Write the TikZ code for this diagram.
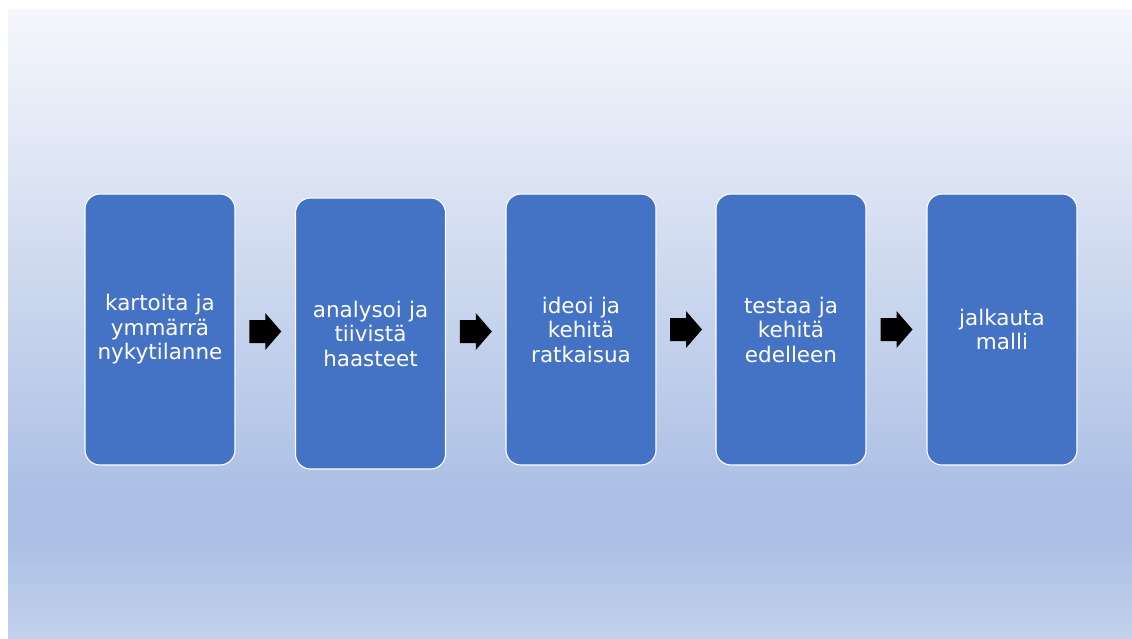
\documentclass[tikz,border=0pt]{standalone}
\usepackage{fontspec}
\setmainfont{DejaVu Sans}
\usetikzlibrary{calc}

\definecolor{bgtop}{HTML}{F5F7FC}
\definecolor{bgmid}{HTML}{D9E1F2}
\definecolor{bgdeep}{HTML}{ABBFE5}
\definecolor{bgbot}{HTML}{C3D2EC}
\definecolor{stepblue}{HTML}{4472C4}

% background: pale at the top, deepest blue low down, lighter again at the foot
\pgfdeclareverticalshading{slidebg}{100bp}{%
  color(0bp)=(bgbot);
  color(25bp)=(bgbot);
  color(33bp)=(bgdeep);
  color(36bp)=(bgdeep);
  color(60bp)=(bgmid);
  color(75bp)=(bgtop);
  color(100bp)=(bgtop)}

\tikzset{
  stagebox/.style={
    rounded corners=15pt, fill=stepblue, draw=white, line width=1.1pt,
    minimum width=150pt, minimum height=271pt, inner sep=0pt,
    text=white, align=center, text width=140pt,
    font=\fontsize{21.5pt}{24.5pt}\selectfont},
  blockarrow/.style={fill=black}
}

% block arrow centred at #1
\newcommand{\blockarrowat}[1]{%
  \fill[blockarrow] ($(#1)+(-16,-11.5)$) -- ($(#1)+(0,-11.5)$) -- ($(#1)+(0,-18.5)$)
    -- ($(#1)+(16,0)$) -- ($(#1)+(0,18.5)$) -- ($(#1)+(0,11.5)$)
    -- ($(#1)+(-16,11.5)$) -- cycle;}

\begin{document}
\begin{tikzpicture}[x=1pt, y=-1pt]
  \useasboundingbox (0,0) rectangle (1132,639);
  \fill[white] (0,0) rectangle (1132,639);
  \shade[shading=slidebg] (8,10) rectangle (1132,639);

  \node[stagebox] (s1) at (160,329.5) {kartoita ja\\ymmärrä\\nykytilanne};
  \node[stagebox] (s2) at (370.5,333.5) {analysoi ja\\tiivistä\\haasteet};
  \node[stagebox] (s3) at (581,329.5) {ideoi ja\\kehitä\\ratkaisua};
  \node[stagebox] (s4) at (791,329.5) {testaa ja\\kehitä\\edelleen};
  \node[stagebox] (s5) at (1002,329.5) {jalkauta\\malli};

  \coordinate (a12) at ($(s1.east)!0.5!(s2.west)$);
  \coordinate (a23) at ($(s2.east)!0.5!(s3.west)$);
  \coordinate (a34) at ($(s3.east)!0.5!(s4.west)$);
  \coordinate (a45) at ($(s4.east)!0.5!(s5.west)$);
  \blockarrowat{a12}
  \blockarrowat{a23}
  \blockarrowat{a34}
  \blockarrowat{a45}
\end{tikzpicture}
\end{document}
